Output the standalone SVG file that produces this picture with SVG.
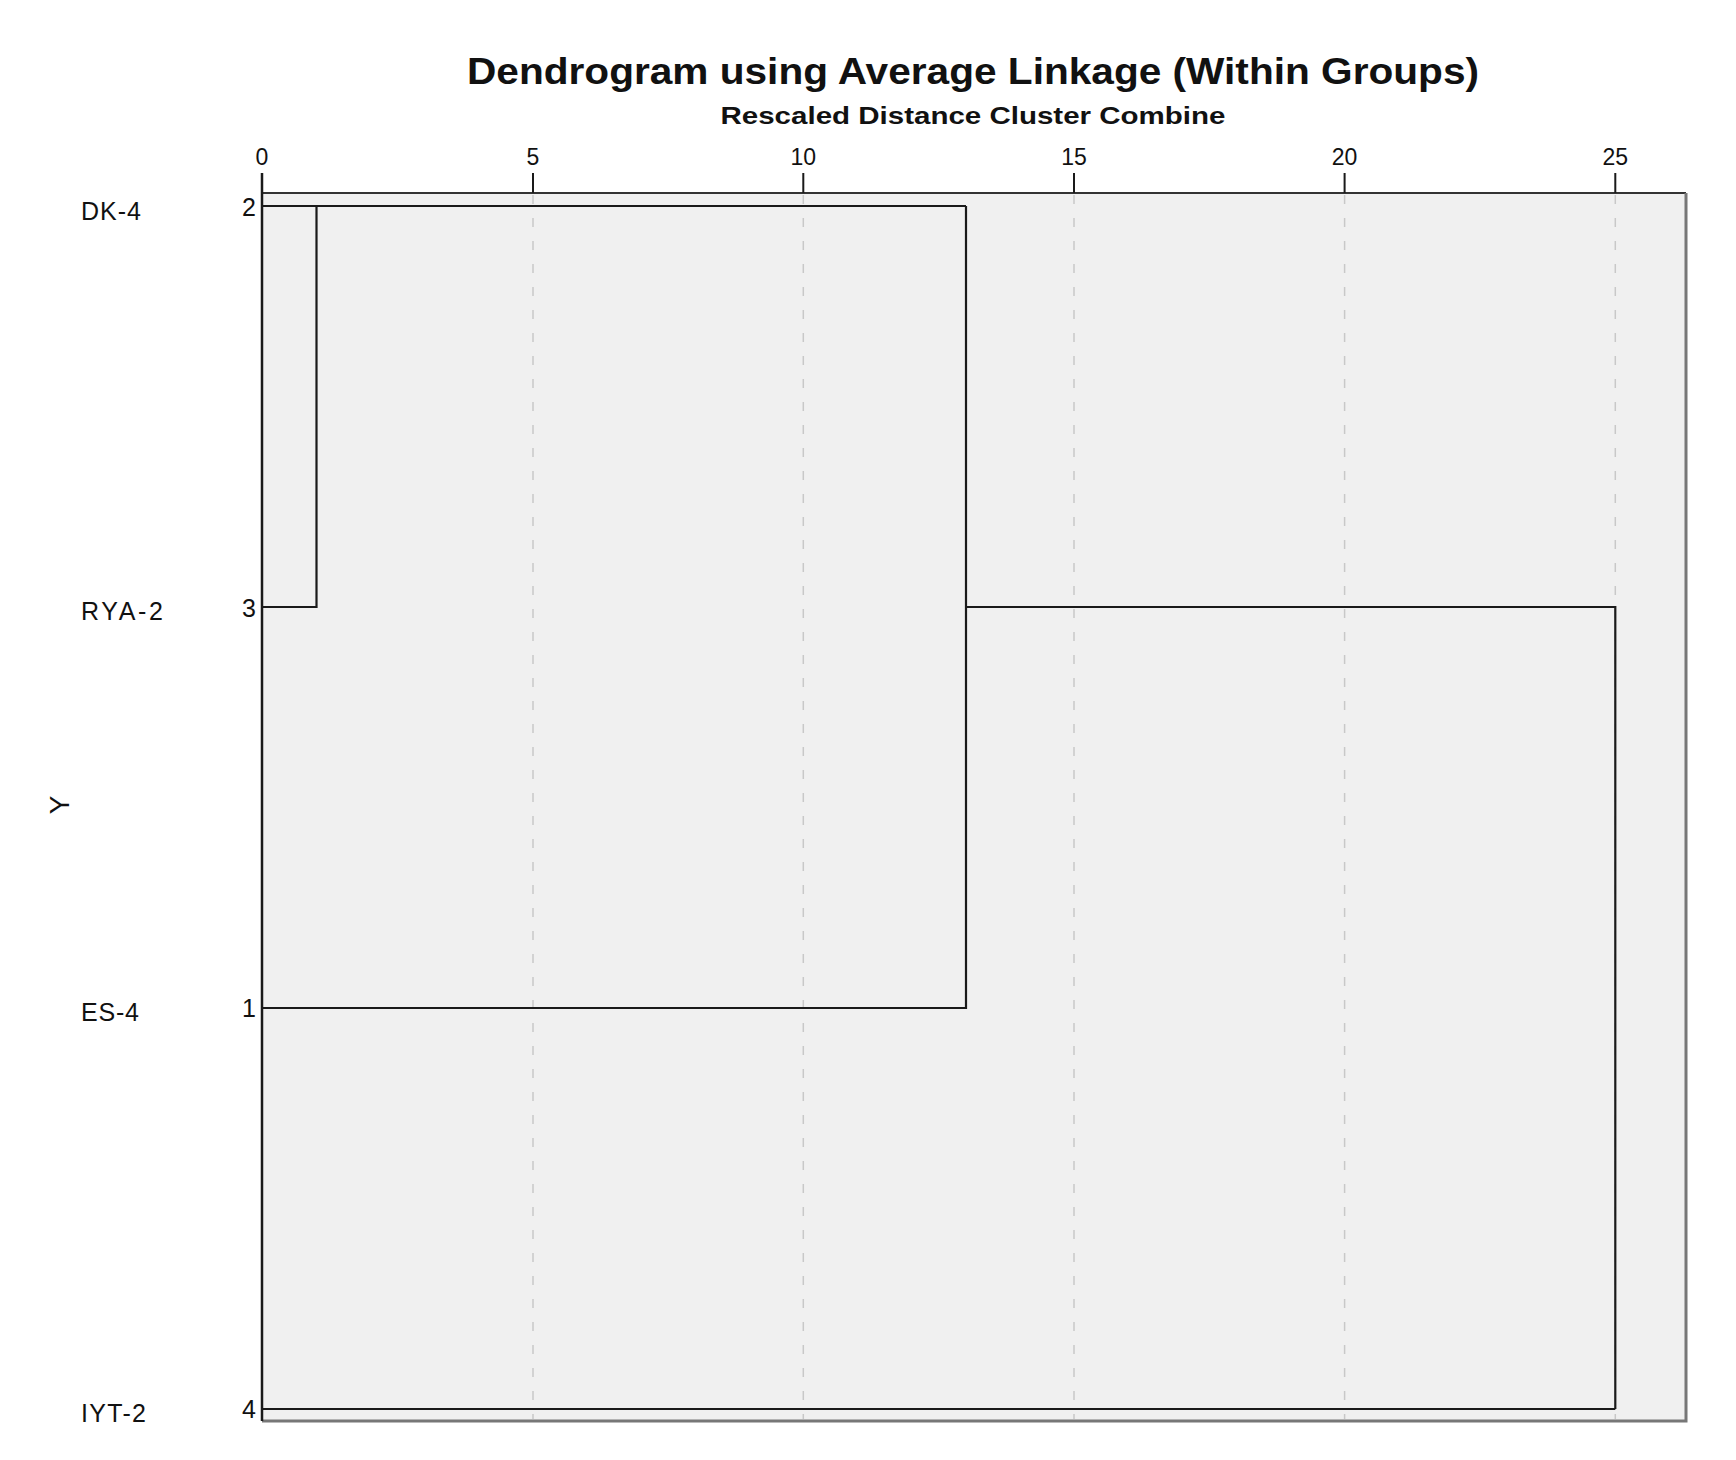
<svg xmlns="http://www.w3.org/2000/svg" width="1736" height="1460" viewBox="0 0 1736 1460">
<style>
.t{font-family:"Liberation Sans",Arial,sans-serif;fill:#111}
.title{font-size:37px;font-weight:bold}
.sub{font-size:24px;font-weight:bold}
.tick{font-size:23px}
.lab{font-size:25px}
.num{font-size:25px}
.grid{stroke:#c8c8c8;stroke-width:1.5;stroke-dasharray:9 14;fill:none}
.link{stroke:#1a1a1a;stroke-width:2.2;fill:none}
</style>
<rect width="1736" height="1460" fill="#ffffff"/>
<g id="title">
<text class="t title" x="973" y="84" text-anchor="middle" textLength="1012" lengthAdjust="spacingAndGlyphs">Dendrogram using Average Linkage (Within Groups)</text>
<text class="t sub" x="973" y="124" text-anchor="middle" textLength="505" lengthAdjust="spacingAndGlyphs">Rescaled Distance Cluster Combine</text>
</g>
<g id="plot">
<rect x="262" y="193" width="1424" height="1228" fill="#f0f0f0"/>
<path d="M262 193H1686" stroke="#333" stroke-width="2" fill="none"/>
<path d="M1686 193V1421H262" stroke="#777" stroke-width="3" fill="none"/>
<g id="grid">
<path class="grid" d="M533 195V1419M803.3 195V1419M1074 195V1419M1344.6 195V1419M1615.3 195V1419"/>
</g>
<g id="axis">
<path d="M262 173V1421" stroke="#1a1a1a" stroke-width="2.5" fill="none"/>
<path d="M533 173V193M803.3 173V193M1074 173V193M1344.6 173V193M1615.3 173V193" stroke="#1a1a1a" stroke-width="2" fill="none"/>
<text class="t tick" x="262" y="165" text-anchor="middle">0</text>
<text class="t tick" x="533" y="165" text-anchor="middle">5</text>
<text class="t tick" x="803.3" y="165" text-anchor="middle">10</text>
<text class="t tick" x="1074" y="165" text-anchor="middle">15</text>
<text class="t tick" x="1344.6" y="165" text-anchor="middle">20</text>
<text class="t tick" x="1615.3" y="165" text-anchor="middle">25</text>
</g>
</g>
<g id="node-DK-4">
<text class="t lab" x="81" y="220" textLength="60" lengthAdjust="spacing">DK-4</text>
<text class="t num" x="256" y="216" text-anchor="end">2</text>
</g>
<g id="node-RYA-2">
<text class="t lab" x="81" y="620" textLength="82" lengthAdjust="spacing">RYA-2</text>
<text class="t num" x="256" y="617" text-anchor="end">3</text>
</g>
<g id="node-ES-4">
<text class="t lab" x="81" y="1021" textLength="58" lengthAdjust="spacing">ES-4</text>
<text class="t num" x="256" y="1017" text-anchor="end">1</text>
</g>
<g id="node-IYT-2">
<text class="t lab" x="81" y="1422" textLength="65" lengthAdjust="spacing">IYT-2</text>
<text class="t num" x="256" y="1418" text-anchor="end">4</text>
</g>
<g id="y-label">
<text class="t" x="0" y="0" font-size="28" text-anchor="middle" transform="translate(69 805) rotate(-90)" fill="#333">Y</text>
</g>
<g id="connectors">
<path class="link" d="M262 206H966"/>
<path class="link" d="M262 607H316.5V206"/>
<path class="link" d="M262 1008H966V206"/>
<path class="link" d="M966 607H1615.3V1409"/>
<path class="link" d="M262 1409H1615.3"/>
</g>
</svg>
